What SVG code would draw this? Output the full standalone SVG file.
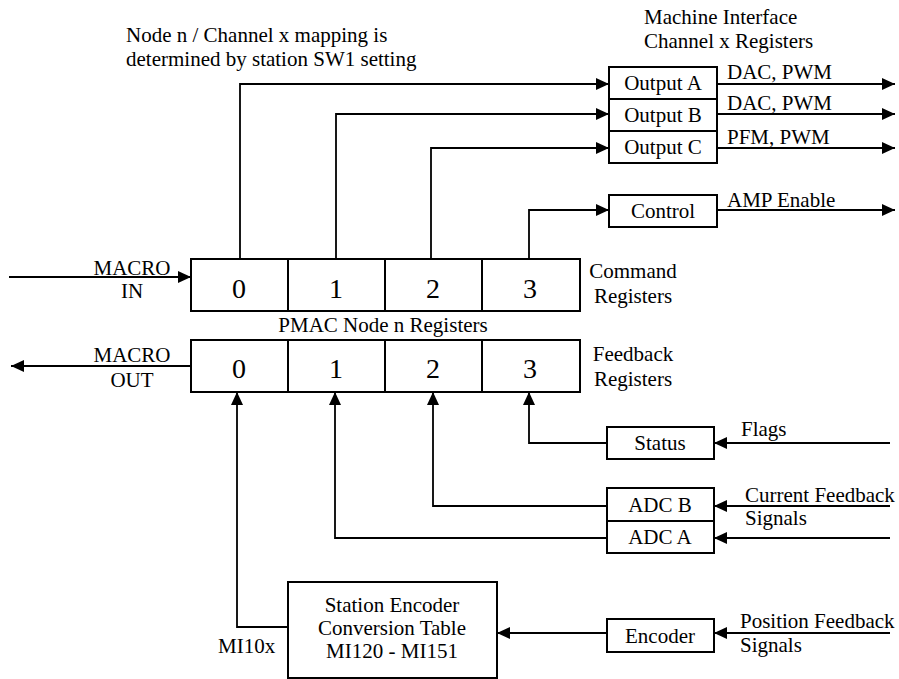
<svg xmlns="http://www.w3.org/2000/svg" width="899" height="679" viewBox="0 0 899 679" font-family="'Liberation Serif', 'Times New Roman', 'DejaVu Serif', serif">
<style>
text{font-family:'Liberation Serif','Times New Roman','DejaVu Serif',serif;font-size:21px;fill:#000}
.big{font-size:28px}
.box{fill:#fff;stroke:#000;stroke-width:2}
.ln{fill:none;stroke:#000;stroke-width:1.8}
.m{text-anchor:middle}
</style>
<defs>
<marker id="ah" viewBox="0 0 13 12" refX="13" refY="6" markerWidth="13" markerHeight="12" markerUnits="userSpaceOnUse" orient="auto">
<path d="M0,0 L13,6 L0,12 z" fill="#000"/>
</marker>
</defs>
<rect width="899" height="679" fill="#fff"/>
<g id="labels">
<text x="126" y="42">Node n / Channel x mapping is</text>
<text x="126" y="66">determined by station SW1 setting</text>
<text x="644" y="24">Machine Interface</text>
<text x="644" y="48">Channel x Registers</text>
<text x="383" y="332" class="m">PMAC Node n Registers</text>
</g>
<g id="connectors">
<path class="ln" d="M240,259 V84 H609" marker-end="url(#ah)"/>
<path class="ln" d="M336,259 V114 H609" marker-end="url(#ah)"/>
<path class="ln" d="M431,259 V148 H609" marker-end="url(#ah)"/>
<path class="ln" d="M529,259 V210 H609" marker-end="url(#ah)"/>
<path class="ln" d="M717,84 H895" marker-end="url(#ah)"/>
<path class="ln" d="M717,114 H895" marker-end="url(#ah)"/>
<path class="ln" d="M717,148 H895" marker-end="url(#ah)"/>
<path class="ln" d="M717,210 H895" marker-end="url(#ah)"/>
<path class="ln" d="M9,277 H191" marker-end="url(#ah)"/>
<path class="ln" d="M191,366 H11" marker-end="url(#ah)"/>
<path class="ln" d="M607,443 H529 V392" marker-end="url(#ah)"/>
<path class="ln" d="M607,506 H433 V392" marker-end="url(#ah)"/>
<path class="ln" d="M607,538 H335 V392" marker-end="url(#ah)"/>
<path class="ln" d="M288,627 H237 V392" marker-end="url(#ah)"/>
<path class="ln" d="M890,443 H714" marker-end="url(#ah)"/>
<path class="ln" d="M890,506 H714" marker-end="url(#ah)"/>
<path class="ln" d="M890,538 H714" marker-end="url(#ah)"/>
<path class="ln" d="M890,633 H714" marker-end="url(#ah)"/>
<path class="ln" d="M607,633 H497" marker-end="url(#ah)"/>
<text x="727" y="79">DAC, PWM</text>
<text x="727" y="110">DAC, PWM</text>
<text x="727" y="144">PFM, PWM</text>
<text x="727" y="207">AMP Enable</text>
<text x="132" y="275" class="m">MACRO</text>
<text x="132" y="298" class="m">IN</text>
<text x="132" y="362" class="m">MACRO</text>
<text x="132" y="387" class="m">OUT</text>
<text x="741" y="436">Flags</text>
<text x="745" y="502">Current Feedback</text>
<text x="745" y="525">Signals</text>
<text x="740" y="628">Position Feedback</text>
<text x="740" y="652">Signals</text>
<text x="218" y="653">MI10x</text>
</g>
<g id="command-registers">
<rect class="box" x="191" y="259" width="389" height="52"/>
<path class="ln" style="stroke-width:2" d="M288,259 V311 M385,259 V311 M482,259 V311"/>
<text class="big m" x="239" y="298">0</text>
<text class="big m" x="336" y="298">1</text>
<text class="big m" x="433" y="298">2</text>
<text class="big m" x="530" y="298">3</text>
<text x="633" y="278" class="m">Command</text>
<text x="633" y="303" class="m">Registers</text>
</g>
<g id="feedback-registers">
<rect class="box" x="191" y="340" width="389" height="52"/>
<path class="ln" style="stroke-width:2" d="M288,340 V392 M385,340 V392 M482,340 V392"/>
<text class="big m" x="239" y="378">0</text>
<text class="big m" x="336" y="378">1</text>
<text class="big m" x="433" y="378">2</text>
<text class="big m" x="530" y="378">3</text>
<text x="633" y="361" class="m">Feedback</text>
<text x="633" y="386" class="m">Registers</text>
</g>
<g id="output-a"><rect class="box" x="609" y="67" width="108" height="32"/><text class="m" x="663" y="90">Output A</text></g>
<g id="output-b"><rect class="box" x="609" y="99" width="108" height="32"/><text class="m" x="663" y="122">Output B</text></g>
<g id="output-c"><rect class="box" x="609" y="131" width="108" height="32"/><text class="m" x="663" y="154">Output C</text></g>
<g id="control"><rect class="box" x="609" y="195" width="108" height="32"/><text class="m" x="663" y="218">Control</text></g>
<g id="status"><rect class="box" x="607" y="427" width="107" height="32"/><text class="m" x="660" y="450">Status</text></g>
<g id="adc-b"><rect class="box" x="607" y="488" width="107" height="33"/><text class="m" x="660" y="512">ADC B</text></g>
<g id="adc-a"><rect class="box" x="607" y="521" width="107" height="32"/><text class="m" x="660" y="544">ADC A</text></g>
<g id="encoder"><rect class="box" x="607" y="619" width="107" height="33"/><text class="m" x="660" y="643">Encoder</text></g>
<g id="station-encoder">
<rect class="box" x="288" y="582" width="209" height="96"/>
<text class="m" x="392" y="612">Station Encoder</text>
<text class="m" x="392" y="635">Conversion Table</text>
<text class="m" x="392" y="658">MI120 - MI151</text>
</g>
</svg>
